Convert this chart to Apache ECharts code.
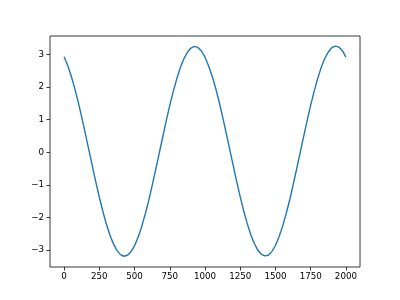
<!DOCTYPE html>
<html><head><meta charset="utf-8">
<script src="https://cdn.jsdelivr.net/npm/echarts@6/dist/echarts.min.js"></script>
<style>html,body{margin:0;padding:0;background:#fff}#c{width:400px;height:300px}</style>
</head><body><div id="c"></div>
<script>
const xValues = [0,25,50,75,100,125,150,175,200,225,250,275,300,325,350,375,400,425,450,475,
  500,525,550,575,600,625,650,675,700,725,750,775,800,825,850,875,900,925,950,975,
  1000,1025,1050,1075,1100,1125,1150,1175,1200,1225,1250,1275,1300,1325,1350,1375,1400,1425,1450,1475,
  1500,1525,1550,1575,1600,1625,1650,1675,1700,1725,1750,1775,1800,1825,1850,1875,1900,1925,1950,1975,2000];
const yValues = [2.93,2.67,2.35,1.97,1.55,1.08,0.59,0.09,-0.41,-0.91,-1.38,-1.81,-2.20,-2.54,-2.81,-3.01,-3.14,-3.19,-3.16,-3.05,
  -2.87,-2.61,-2.29,-1.91,-1.49,-1.02,-0.53,-0.03,0.47,0.97,1.44,1.87,2.26,2.60,2.87,3.07,3.20,3.25,3.22,3.11,
  2.92,2.66,2.35,1.98,1.56,1.09,0.60,0.10,-0.40,-0.90,-1.37,-1.80,-2.19,-2.53,-2.80,-3.00,-3.13,-3.18,-3.16,-3.04,
  -2.86,-2.60,-2.28,-1.90,-1.48,-1.01,-0.52,-0.02,0.48,0.98,1.45,1.88,2.27,2.61,2.88,3.08,3.21,3.26,3.23,3.12,2.92];
const xTicks = [0,250,500,750,1000,1250,1500,1750,2000];
const yTicks = [-3,-2,-1,0,1,2,3];

const fmt = v => String(v).replace('-', '\u2212');
const labelStyle = {color:'#000', fontFamily:'DejaVu Sans', fontSize:8.7};
const chart = echarts.init(document.getElementById('c'), null, {renderer:'canvas'});
chart.setOption({
  animation:false,
  grid:{left:50, top:36, right:40, bottom:33, show:true, borderColor:'#222', borderWidth:0.9, backgroundColor:'transparent'},
  xAxis:{type:'value', min:-100, max:2100,
    axisLine:{show:false, onZero:false}, splitLine:{show:false},
    axisTick:{show:true, inside:false, length:3.5, lineStyle:{color:'#222', width:0.9}, customValues:xTicks},
    axisLabel:Object.assign({margin:5, customValues:xTicks, formatter:fmt}, labelStyle)},
  yAxis:{type:'value', min:-3.52, max:3.57,
    axisLine:{show:false, onZero:false}, splitLine:{show:false},
    axisTick:{show:true, inside:false, length:3.5, lineStyle:{color:'#222', width:0.9}, customValues:yTicks},
    axisLabel:Object.assign({margin:6, customValues:yTicks, formatter:fmt}, labelStyle)},
  series:[{type:'line', data:xValues.map((x,i)=>[x,yValues[i]]), showSymbol:false,
    lineStyle:{color:'#1f77b4', width:1.4}, smooth:false}]
});
</script></body></html>
